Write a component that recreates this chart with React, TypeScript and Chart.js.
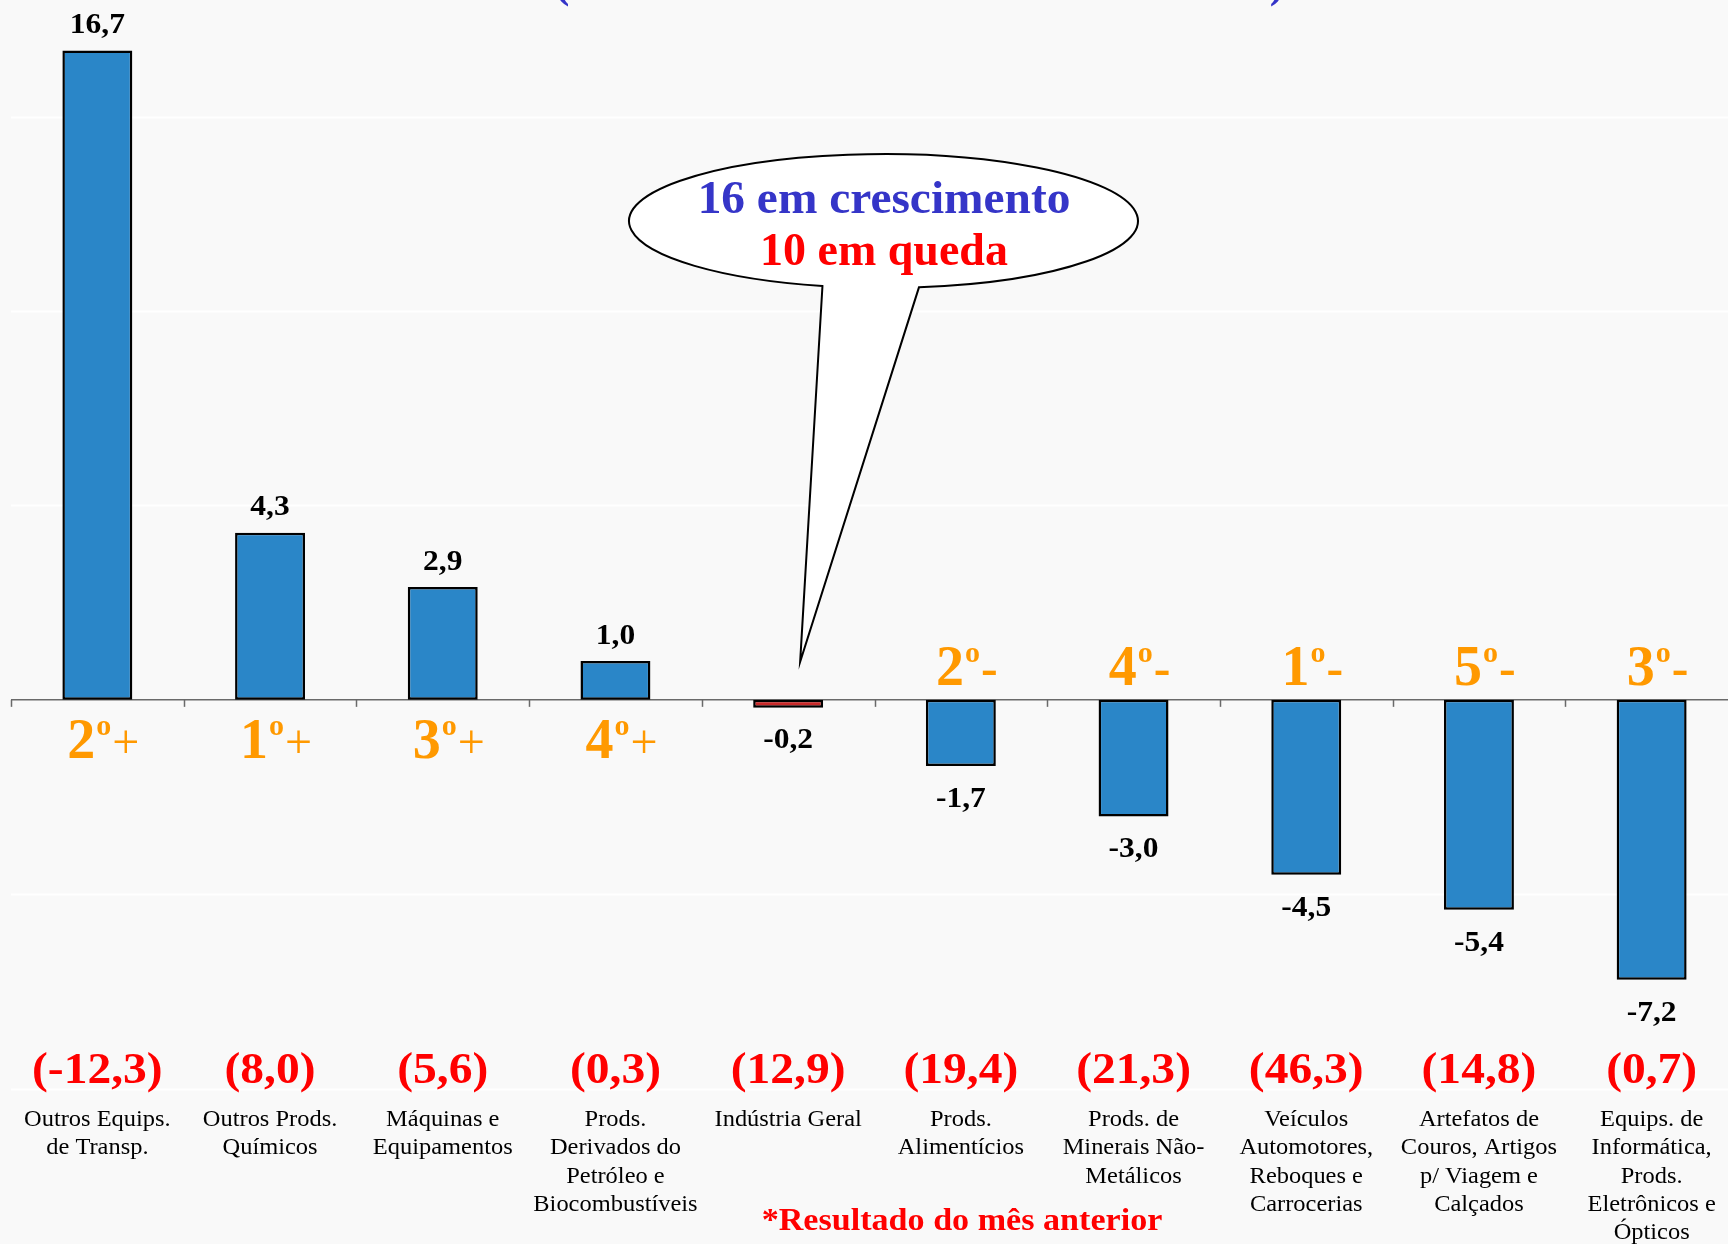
import React, { useEffect, useRef } from "react";
import { Chart, registerables } from "chart.js";

Chart.register(...registerables);

// ---------- DATA ----------
const categories: string[][] = [
  ["Outros Equips.", "de Transp."],
  ["Outros Prods.", "Químicos"],
  ["Máquinas e", "Equipamentos"],
  ["Prods.", "Derivados do", "Petróleo e", "Biocombustíveis"],
  ["Indústria Geral"],
  ["Prods.", "Alimentícios"],
  ["Prods. de", "Minerais Não-", "Metálicos"],
  ["Veículos", "Automotores,", "Reboques e", "Carrocerias"],
  ["Artefatos de", "Couros, Artigos", "p/ Viagem e", "Calçados"],
  ["Equips. de", "Informática,", "Prods.", "Eletrônicos e", "Ópticos"],
];
const values: number[] = [16.7, 4.3, 2.9, 1.0, -0.2, -1.7, -3.0, -4.5, -5.4, -7.2];
const ranks: (number | null)[] = [2, 1, 3, 4, null, 2, 4, 1, 5, 3];
const previousMonth: string[] = ["(-12,3)", "(8,0)", "(5,6)", "(0,3)", "(12,9)", "(19,4)", "(21,3)", "(46,3)", "(14,8)", "(0,7)"];
const highlightIndex = 4;
const bubbleLines: string[] = ["16 em crescimento", "10 em queda"];
const footnote = "*Resultado do mês anterior";
const gridValues: number[] = [-10, -5, 5, 10, 15];

// ---------- STYLE ----------
const BG = "#f9f9f9";
const BAR_BLUE = "#2a86c8";
const BAR_RED = "#c92a2a";
const ORANGE = "#ff9900";
const RED = "#ff0000";
const BLUE_TXT = "#3535c8";
const SERIF = "'Liberation Serif', 'DejaVu Serif', serif";

function fmt(v: number) {
  return v.toFixed(1).replace(".", ",");
}

function drawText(
  ctx: CanvasRenderingContext2D,
  s: string,
  x: number,
  y: number,
  font: string,
  color: string,
  sx = 1.06,
  align: CanvasTextAlign = "center",
  baseline: CanvasTextBaseline = "middle"
) {
  ctx.save();
  ctx.font = font;
  ctx.fillStyle = color;
  ctx.textAlign = align;
  ctx.textBaseline = baseline;
  ctx.translate(x, y);
  ctx.scale(sx, 1);
  ctx.fillText(s, 0, 0);
  ctx.restore();
}

const decorPlugin = {
  id: "decor",
  beforeDraw(chart: any) {
    const { ctx, width, height } = chart;
    ctx.save();
    ctx.fillStyle = BG;
    ctx.fillRect(0, 0, width, height);
    ctx.restore();
  },
  beforeDatasetsDraw(chart: any) {
    const { ctx, chartArea } = chart;
    const y = chart.scales.y;
    ctx.save();
    // gridlines
    ctx.strokeStyle = "#ffffff";
    ctx.lineWidth = 2;
    gridValues.forEach((v) => {
      const py = Math.round(y.getPixelForValue(v)) + 0.5;
      ctx.beginPath();
      ctx.moveTo(chartArea.left, py);
      ctx.lineTo(chartArea.right, py);
      ctx.stroke();
    });
    // axis
    const ay = y.getPixelForValue(0);
    ctx.strokeStyle = "#6a6a6a";
    ctx.lineWidth = 1.5;
    ctx.beginPath();
    ctx.moveTo(chartArea.left, ay);
    ctx.lineTo(chartArea.right, ay);
    ctx.stroke();
    const n = values.length;
    const cw = (chartArea.right - chartArea.left) / n;
    for (let k = 0; k <= n; k++) {
      const px = Math.round(chartArea.left + k * cw) + 0.5;
      ctx.beginPath();
      ctx.moveTo(px, ay);
      ctx.lineTo(px, ay + 7);
      ctx.stroke();
    }
    ctx.restore();
  },
  afterDatasetsDraw(chart: any) {
    const { ctx } = chart;
    const xs = chart.scales.x;
    const ys = chart.scales.y;
    const meta = chart.getDatasetMeta(0);
    const ay = ys.getPixelForValue(0);

    // title fragment (cut off at top)
    drawText(ctx, "(", 562, -3, `bold 44px ${SERIF}`, BLUE_TXT, 1, "center", "alphabetic");
    drawText(ctx, ")", 1277, -3, `bold 44px ${SERIF}`, BLUE_TXT, 1, "center", "alphabetic");

    values.forEach((v, i) => {
      const bar = meta.data[i];
      const cx = xs.getPixelForValue(i);
      // value labels
      const font = `bold 30px ${SERIF}`;
      if (v >= 0) {
        drawText(ctx, fmt(v), cx, bar.y - 25, font, "#000", 1.05);
      } else {
        drawText(ctx, fmt(v), cx, bar.y + 33, font, "#000", 1.05);
      }
      // rank labels
      const r = ranks[i];
      if (r !== null) {
        const positive = v >= 0;
        const base = positive ? ay + 58 : ay - 15;
        const fDigit = `bold 56px ${SERIF}`;
        const fO = `bold 30px ${SERIF}`;
        const fSign = positive ? `48px ${SERIF}` : `bold 50px ${SERIF}`;
        const sign = positive ? "+" : "-";
        ctx.save();
        ctx.font = fDigit;
        const wd = ctx.measureText(String(r)).width;
        ctx.font = fO;
        const wo = ctx.measureText("o").width;
        ctx.font = fSign;
        const ws = ctx.measureText(sign).width;
        ctx.restore();
        const gap = 2;
        const total = wd + wo + gap + ws;
        let sx = cx + 6 - total / 2;
        drawText(ctx, String(r), sx, base, fDigit, ORANGE, 1, "left", "alphabetic");
        sx += wd;
        drawText(ctx, "o", sx + 1, base - 23, fO, ORANGE, 1, "left", "alphabetic");
        sx += wo + gap;
        drawText(ctx, sign, sx, base, fSign, ORANGE, 1, "left", "alphabetic");
      }
      // previous month values
      drawText(ctx, previousMonth[i], cx, 1072, `bold 44px ${SERIF}`, RED, 1.08);
      // category labels
      categories[i].forEach((line, li) => {
        drawText(ctx, line, cx, 1120 + li * 28.3, `23.5px ${SERIF}`, "#000", 1.04);
      });
    });

    // footnote
    drawText(ctx, footnote, 962, 1222, `bold 31px ${SERIF}`, RED, 1.1);

    // speech bubble
    const hb = meta.data[highlightIndex];
    const tipX = hb.x + 12;
    const tipY = ay - 38;
    const cxE = 883.5, cyE = 221, rx = 254.5, ry = 67;
    const tL = 1.813, tR = 1.431;
    ctx.save();
    ctx.beginPath();
    ctx.moveTo(cxE + rx * Math.cos(tL), cyE + ry * Math.sin(tL));
    ctx.lineTo(tipX, tipY);
    ctx.lineTo(cxE + rx * Math.cos(tR), cyE + ry * Math.sin(tR));
    ctx.ellipse(cxE, cyE, rx, ry, 0, tR, tL - Math.PI * 2, true);
    ctx.closePath();
    ctx.fillStyle = "#ffffff";
    ctx.fill();
    ctx.strokeStyle = "#000";
    ctx.lineWidth = 2;
    ctx.stroke();
    ctx.restore();
    drawText(ctx, bubbleLines[0], 884, 201, `bold 46px ${SERIF}`, BLUE_TXT, 1.03);
    drawText(ctx, bubbleLines[1], 884, 253, `bold 46px ${SERIF}`, RED, 1.0);
  },
};

export default function App() {
  const ref = useRef<HTMLCanvasElement | null>(null);
  useEffect(() => {
    if (!ref.current) return;
    const chart = new Chart(ref.current, {
      type: "bar",
      data: {
        labels: categories.map((c) => c.join(" ")),
        datasets: [
          {
            data: values,
            backgroundColor: values.map((_, i) => (i === highlightIndex ? BAR_RED : BAR_BLUE)),
            borderColor: "#000000",
            borderWidth: 2.5,
            borderSkipped: false,
            categoryPercentage: 1,
            barPercentage: 0.405,
          },
        ],
      },
      options: {
        responsive: false,
        animation: false,
        devicePixelRatio: 1,
        layout: { padding: { left: 11, right: 12, top: 0, bottom: 38.7 } },
        plugins: { legend: { display: false }, tooltip: { enabled: false }, title: { display: false } },
        scales: {
          x: { display: false },
          y: { display: false, min: -13, max: 18 },
        },
      },
      plugins: [decorPlugin],
    });
    return () => chart.destroy();
  }, []);
  return (
    <div
      style={{
        position: "fixed",
        left: 0,
        top: 0,
        width: 1728,
        height: 1244,
        overflow: "hidden",
        background: BG,
      }}
    >
      <canvas ref={ref} width={1750} height={1244} style={{ position: "absolute", left: 0, top: 0, width: 1750, height: 1244 }} />
    </div>
  );
}
